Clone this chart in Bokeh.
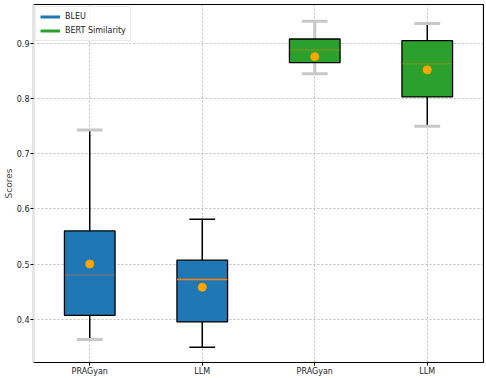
from bokeh.plotting import figure
from bokeh.models import FixedTicker, Range1d, ColumnDataSource, Legend, LegendItem
from bokeh.embed import file_html
from bokeh.resources import INLINE

# ---- data ----
categories = ["PRAGyan", "LLM", "PRAGyan", "LLM"]
metrics = ["BLEU", "BLEU", "BERT Similarity", "BERT Similarity"]
lower_whisker = [0.363, 0.349, 0.845, 0.750]
q1 = [0.407, 0.395, 0.865, 0.803]
median = [0.480, 0.472, 0.888, 0.863]
q3 = [0.560, 0.507, 0.908, 0.905]
upper_whisker = [0.743, 0.581, 0.940, 0.936]
mean = [0.500, 0.458, 0.876, 0.852]

# ---- styles ----
metric_colors = {"BLEU": "#1f77b4", "BERT Similarity": "#2ca02c"}
cap_colors = ["#c8c8c8", "black", "#c8c8c8", "#c8c8c8"]
cap_widths = [3, 1.5, 3, 3]
whisker_colors = ["black", "black", "#c8c8c8", "black"]
whisker_widths = [1.5, 1.5, 3, 1.5]
median_alpha = [0.3, 1.0, 0.3, 0.3]
FONT = "DejaVu Sans"

x = list(range(1, len(categories) + 1))
box_w = 0.45
cap_w = 0.23

src = ColumnDataSource(dict(
    x=x, q1=q1, q3=q3, med=median, lo=lower_whisker, hi=upper_whisker, mean=mean,
    fill=[metric_colors[m] for m in metrics],
    x0=[v - box_w / 2 for v in x], x1=[v + box_w / 2 for v in x],
    c0=[v - cap_w / 2 for v in x], c1=[v + cap_w / 2 for v in x],
    capc=cap_colors, capw=cap_widths, whc=whisker_colors, whw=whisker_widths,
    malpha=median_alpha,
))

p = figure(width=484, height=378, output_backend="svg", toolbar_location=None,
           x_range=Range1d(0.5, 4.5), y_range=Range1d(0.3215, 0.9705),
           min_border_left=0, min_border_right=1, min_border_top=4, min_border_bottom=0)

# whiskers
p.segment(x0="x", y0="q3", x1="x", y1="hi", source=src, line_color="whc", line_width="whw")
p.segment(x0="x", y0="q1", x1="x", y1="lo", source=src, line_color="whc", line_width="whw")
# caps
p.segment(x0="c0", y0="hi", x1="c1", y1="hi", source=src, line_color="capc", line_width="capw")
p.segment(x0="c0", y0="lo", x1="c1", y1="lo", source=src, line_color="capc", line_width="capw")
# boxes
p.vbar(x="x", width=box_w, top="q3", bottom="q1", source=src,
       fill_color="fill", line_color="black", line_width=1.3)
# medians
p.segment(x0="x0", y0="med", x1="x1", y1="med", source=src,
          line_color="#ff7f0e", line_width=1.5, line_alpha="malpha")
# means
p.scatter(x="x", y="mean", source=src, size=8, fill_color="#ffa500",
          line_color="#ffa500", marker="circle")

# legend proxies (NaN data so nothing is drawn in the plot)
items = []
for m, c in metric_colors.items():
    r = p.line(x=[float("nan")], y=[float("nan")], line_color=c, line_width=3)
    items.append(LegendItem(label=m, renderers=[r]))
legend = Legend(items=items, location="top_left")
legend.label_text_font = FONT
legend.label_text_font_size = "8px"
legend.label_text_color = "#222222"
legend.glyph_width = 20
legend.glyph_height = 11
legend.label_height = 11
legend.spacing = 3
legend.padding = 4
legend.margin = 2
legend.border_line_color = "#e6e6e6"
legend.border_line_alpha = 0.8
legend.background_fill_alpha = 0.8
p.add_layout(legend)

# axes
p.xaxis.ticker = FixedTicker(ticks=x)
p.xaxis.major_label_overrides = {v: c for v, c in zip(x, categories)}
p.yaxis.ticker = FixedTicker(ticks=[0.4, 0.5, 0.6, 0.7, 0.8, 0.9])
p.yaxis.axis_label = "Scores"
for ax in (p.xaxis[0], p.yaxis[0]):
    ax.major_label_text_font = FONT
    ax.major_label_text_font_size = "8px"
    ax.major_label_text_color = "#222222"
    ax.minor_tick_line_color = None
    ax.major_tick_out = 3
    ax.major_tick_in = 0
    ax.major_label_standoff = 1
p.xaxis.axis_label_standoff = 0
p.yaxis.axis_label_text_font = FONT
p.yaxis.axis_label_text_font_size = "9px"
p.yaxis.axis_label_text_font_style = "normal"
p.yaxis.axis_label_standoff = 0
p.yaxis.axis_line_color = "#e4e4e4"
p.yaxis.axis_line_width = 2
p.xaxis.axis_line_color = "black"
p.xaxis.axis_line_width = 1.2

p.outline_line_color = "black"
p.outline_line_width = 1.2

# grid
for g in (p.xgrid[0], p.ygrid[0]):
    g.grid_line_color = "#b0b0b0"
    g.grid_line_dash = "2 2"
    g.grid_line_alpha = 0.8
p.xgrid.ticker = FixedTicker(ticks=x)

open("out.html", "w").write(file_html(p, INLINE))
